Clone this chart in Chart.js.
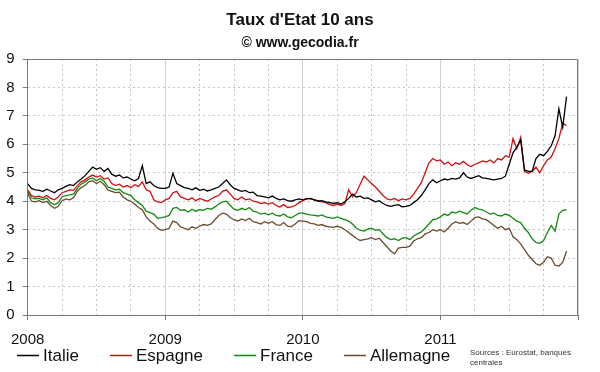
<!DOCTYPE html>
<html lang="fr">
<head>
<meta charset="utf-8">
<title>Taux d'Etat 10 ans</title>
<script src="https://cdn.jsdelivr.net/npm/chart.js@4.4.1/dist/chart.umd.min.js"></script>
<style>
  html, body { margin: 0; padding: 0; background: #fff; }
  canvas { display: block; }
</style>
</head>
<body>
<canvas id="tauxChart" width="600" height="372"></canvas>
<script>
// Données : 3 points par mois, de janvier 2008 à fin novembre 2011
const startYear = 2008;
const pointsPerYear = 36;
const yearLabels = ["2008", "2009", "2010", "2011"];
const seriesNames = ["Italie", "Espagne", "France", "Allemagne"];

const italie = [
  4.62, 4.45, 4.40, 4.38, 4.35, 4.42, 4.36, 4.30, 4.40, 4.45, 4.52, 4.58,
  4.55, 4.68, 4.78, 4.90, 5.05, 5.20, 5.12, 5.18, 5.05, 5.15, 4.95, 4.88,
  4.92, 4.82, 4.85, 4.78, 4.72, 4.80, 5.25, 4.62, 4.68, 4.55, 4.48, 4.45,
  4.45, 4.50, 4.98, 4.62, 4.55, 4.48, 4.45, 4.40, 4.47, 4.38, 4.42, 4.36,
  4.40, 4.45, 4.50, 4.62, 4.75, 4.58, 4.45, 4.40, 4.35, 4.38, 4.30, 4.32,
  4.20, 4.18, 4.15, 4.12, 4.18, 4.10, 4.05, 4.08, 4.02, 4.00, 4.05, 4.08,
  4.05, 4.08, 4.10, 4.05, 4.00, 4.02, 3.98, 3.95, 3.92, 3.95, 3.90, 3.98,
  4.10, 4.25, 4.15, 4.18, 4.10, 4.12, 4.05, 3.98, 4.02, 3.92, 3.85, 3.82,
  3.85, 3.88, 3.80, 3.82, 3.85, 3.95, 4.05, 4.20, 4.40, 4.62, 4.75, 4.65,
  4.72, 4.78, 4.75, 4.80, 4.78, 4.82, 5.00, 4.85, 4.80, 4.85, 4.90, 4.82,
  4.80, 4.78, 4.75, 4.78, 4.80, 4.88, 5.30, 5.70, 5.90, 6.15, 5.10, 5.05,
  5.05, 5.50, 5.65, 5.60, 5.75, 5.95, 6.30, 7.25, 6.60, 7.68
];

const espagne = [
  4.40, 4.20, 4.15, 4.18, 4.12, 4.20, 4.10, 4.05, 4.15, 4.30, 4.35, 4.40,
  4.38, 4.55, 4.68, 4.75, 4.85, 4.92, 4.85, 4.90, 4.78, 4.82, 4.62, 4.55,
  4.60, 4.50, 4.55, 4.48, 4.58, 4.52, 4.68, 4.40, 4.35, 4.05, 3.98, 3.95,
  4.05, 4.10, 4.30, 4.35, 4.15, 4.10, 4.05, 4.12, 4.02, 4.10, 4.05, 4.00,
  4.08, 4.15, 4.20, 4.35, 4.40, 4.25, 4.10, 4.05, 4.15, 4.05, 4.08, 4.00,
  3.98, 3.92, 3.95, 3.90, 3.95, 3.85, 3.80, 3.88, 3.78, 3.80, 3.85, 3.95,
  4.02, 4.10, 4.08, 4.05, 4.02, 3.98, 3.95, 3.88, 3.85, 3.90, 3.85, 3.92,
  4.40, 4.15, 4.30, 4.60, 4.88, 4.75, 4.62, 4.50, 4.35, 4.20, 4.08, 4.05,
  4.10, 4.02, 4.08, 4.05, 4.10, 4.25, 4.45, 4.65, 5.00, 5.35, 5.50, 5.42,
  5.45, 5.30, 5.38, 5.25, 5.35, 5.30, 5.40, 5.28, 5.22, 5.30, 5.35, 5.42,
  5.38, 5.45, 5.35, 5.50, 5.45, 5.60, 5.55, 6.20, 5.85, 6.25, 5.05, 4.98,
  5.05, 5.20, 5.00, 5.25, 5.45, 5.55, 5.85, 6.20, 6.75, 6.65
];

const france = [
  4.35, 4.12, 4.08, 4.10, 4.05, 4.12, 3.95, 3.88, 3.95, 4.15, 4.20, 4.22,
  4.25, 4.45, 4.60, 4.68, 4.78, 4.82, 4.72, 4.80, 4.70, 4.50, 4.45, 4.40,
  4.42, 4.30, 4.25, 4.20, 4.05, 3.95, 3.85, 3.65, 3.60, 3.55, 3.40, 3.42,
  3.45, 3.50, 3.75, 3.78, 3.68, 3.70, 3.62, 3.72, 3.65, 3.70, 3.68, 3.75,
  3.72, 3.80, 3.90, 3.98, 4.00, 3.85, 3.72, 3.68, 3.75, 3.70, 3.78, 3.65,
  3.62, 3.55, 3.58, 3.52, 3.58, 3.50, 3.48, 3.55, 3.45, 3.42, 3.50, 3.58,
  3.58, 3.55, 3.52, 3.50, 3.48, 3.52, 3.45, 3.42, 3.40, 3.45, 3.40, 3.35,
  3.30, 3.20, 3.05, 2.98, 2.95, 3.02, 3.05, 2.98, 3.00, 2.85, 2.72, 2.65,
  2.68, 2.62, 2.70, 2.72, 2.65, 2.78, 2.85, 2.92, 3.05, 3.20, 3.35, 3.38,
  3.45, 3.55, 3.50, 3.62, 3.58, 3.65, 3.60, 3.55, 3.68, 3.78, 3.72, 3.70,
  3.62, 3.55, 3.58, 3.50, 3.48, 3.55, 3.50, 3.40, 3.30, 3.25, 3.05, 2.90,
  2.68, 2.55, 2.52, 2.62, 2.90, 3.15, 2.95, 3.55, 3.68, 3.70
];

const allemagne = [
  4.28, 4.00, 3.98, 4.02, 3.95, 4.00, 3.85, 3.75, 3.82, 4.02, 4.08, 4.05,
  4.12, 4.35, 4.48, 4.55, 4.68, 4.72, 4.62, 4.70, 4.58, 4.40, 4.35, 4.30,
  4.32, 4.15, 4.05, 4.00, 3.90, 3.78, 3.70, 3.45, 3.30, 3.20, 3.05, 2.98,
  3.00, 3.05, 3.30, 3.25, 3.10, 3.05, 3.00, 3.10, 3.05, 3.12, 3.18, 3.15,
  3.20, 3.35, 3.50, 3.58, 3.55, 3.42, 3.35, 3.30, 3.38, 3.32, 3.40, 3.28,
  3.25, 3.20, 3.28, 3.22, 3.28, 3.18, 3.15, 3.25, 3.12, 3.10, 3.20, 3.32,
  3.30, 3.28, 3.22, 3.20, 3.15, 3.18, 3.12, 3.10, 3.08, 3.12, 3.08, 3.00,
  2.90, 2.80, 2.70, 2.62, 2.65, 2.68, 2.72, 2.65, 2.70, 2.55, 2.40, 2.25,
  2.15, 2.35, 2.38, 2.38, 2.42, 2.60, 2.68, 2.72, 2.85, 2.90, 3.00, 2.95,
  3.00, 2.92, 3.05, 3.20, 3.28, 3.22, 3.25, 3.18, 3.30, 3.42, 3.45, 3.38,
  3.35, 3.25, 3.15, 3.05, 3.12, 3.00, 3.05, 2.75, 2.65, 2.50, 2.30, 2.10,
  1.95, 1.80, 1.75, 1.85, 2.05, 2.00, 1.75, 1.72, 1.85, 2.25
];

const seriesColors = ["#000000", "#d01010", "#118a11", "#6b4a2c"];
const FONT = "Arial, 'Liberation Sans', sans-serif";

Chart.defaults.font.family = FONT;

const toPoints = (values) =>
  values.map((v, i) => ({ x: startYear + i / pointsPerYear, y: v }));

const isYear = (v) => Math.abs(v - Math.round(v)) < 1e-9;

// Titre, cadre, légende et sources dessinés à la main
const decorPlugin = {
  id: "decor",
  afterDraw(chart) {
    const { ctx, chartArea: a } = chart;
    ctx.save();

    ctx.strokeStyle = "#7a7a7a";
    ctx.lineWidth = 1;
    ctx.beginPath();
    ctx.moveTo(Math.round(a.left), Math.round(a.top) + 0.5);
    ctx.lineTo(Math.round(a.right) - 0.5, Math.round(a.top) + 0.5);
    ctx.lineTo(Math.round(a.right) - 0.5, Math.round(a.bottom));
    ctx.stroke();

    ctx.fillStyle = "#111";
    ctx.textAlign = "center";
    ctx.textBaseline = "middle";
    ctx.font = "bold 17px " + FONT;
    ctx.fillText("Taux d'Etat 10 ans", 300, 20);
    ctx.font = "bold 14px " + FONT;
    ctx.fillText("\u00A9 www.gecodia.fr", 300, 43);

    ctx.textAlign = "left";
    ctx.font = "17px " + FONT;
    let x = 17;
    seriesNames.forEach((name, i) => {
      ctx.strokeStyle = seriesColors[i];
      ctx.lineWidth = 1.5;
      ctx.beginPath();
      ctx.moveTo(x, 355.5);
      ctx.lineTo(x + 22, 355.5);
      ctx.stroke();
      ctx.fillStyle = "#111";
      ctx.fillText(name, x + 26, 356);
      x += 26 + ctx.measureText(name).width + 31;
    });

    ctx.font = "8px " + FONT;
    ctx.fillStyle = "#333";
    ctx.fillText("Sources : Eurostat, banques", 470, 353);
    ctx.fillText("centrales", 470, 363);
    ctx.restore();
  },
};

new Chart(document.getElementById("tauxChart"), {
  type: "line",
  data: {
    datasets: [italie, espagne, france, allemagne].map((values, i) => ({
      label: seriesNames[i],
      data: toPoints(values),
      borderColor: seriesColors[i],
      borderWidth: 1.3,
      pointRadius: 0,
      tension: 0,
      fill: false,
    })),
  },
  options: {
    responsive: false,
    animation: false,
    devicePixelRatio: 1,
    layout: { padding: { top: 59, right: 22, bottom: 0, left: 0 } },
    plugins: {
      legend: { display: false },
      title: { display: false },
      tooltip: { enabled: false },
    },
    scales: {
      x: {
        type: "linear",
        min: 2008,
        max: 2012,
        afterFit: (scale) => { scale.height = 57; },
        ticks: {
          stepSize: 0.25,
          autoSkip: false,
          maxRotation: 0,
          padding: 11,
          color: "#111",
          font: { size: 15 },
          callback: (v) => (isYear(v) && yearLabels[Math.round(v) - startYear]) || "",
        },
        grid: {
          color: (c) => (c.tick && isYear(c.tick.value) ? "#d2d2d2" : "#c6c6c6"),
          tickColor: (c) => (c.tick && isYear(c.tick.value) ? "#7a7a7a" : "rgba(0,0,0,0)"),
          tickLength: 5,
        },
        border: {
          color: "#7a7a7a",
          dash: (c) => (c.tick && !isYear(c.tick.value) ? [2, 3] : []),
        },
      },
      y: {
        min: 0,
        max: 9,
        afterFit: (scale) => { scale.width = 26; },
        ticks: {
          stepSize: 1,
          padding: 8,
          color: "#111",
          font: { size: 15 },
        },
        grid: {
          color: "#c6c6c6",
          tickColor: "#7a7a7a",
          tickLength: 5,
        },
        border: {
          color: "#7a7a7a",
          dash: (c) => (c.tick ? [2, 3] : []),
        },
      },
    },
  },
  plugins: [decorPlugin],
});
</script>
</body>
</html>
